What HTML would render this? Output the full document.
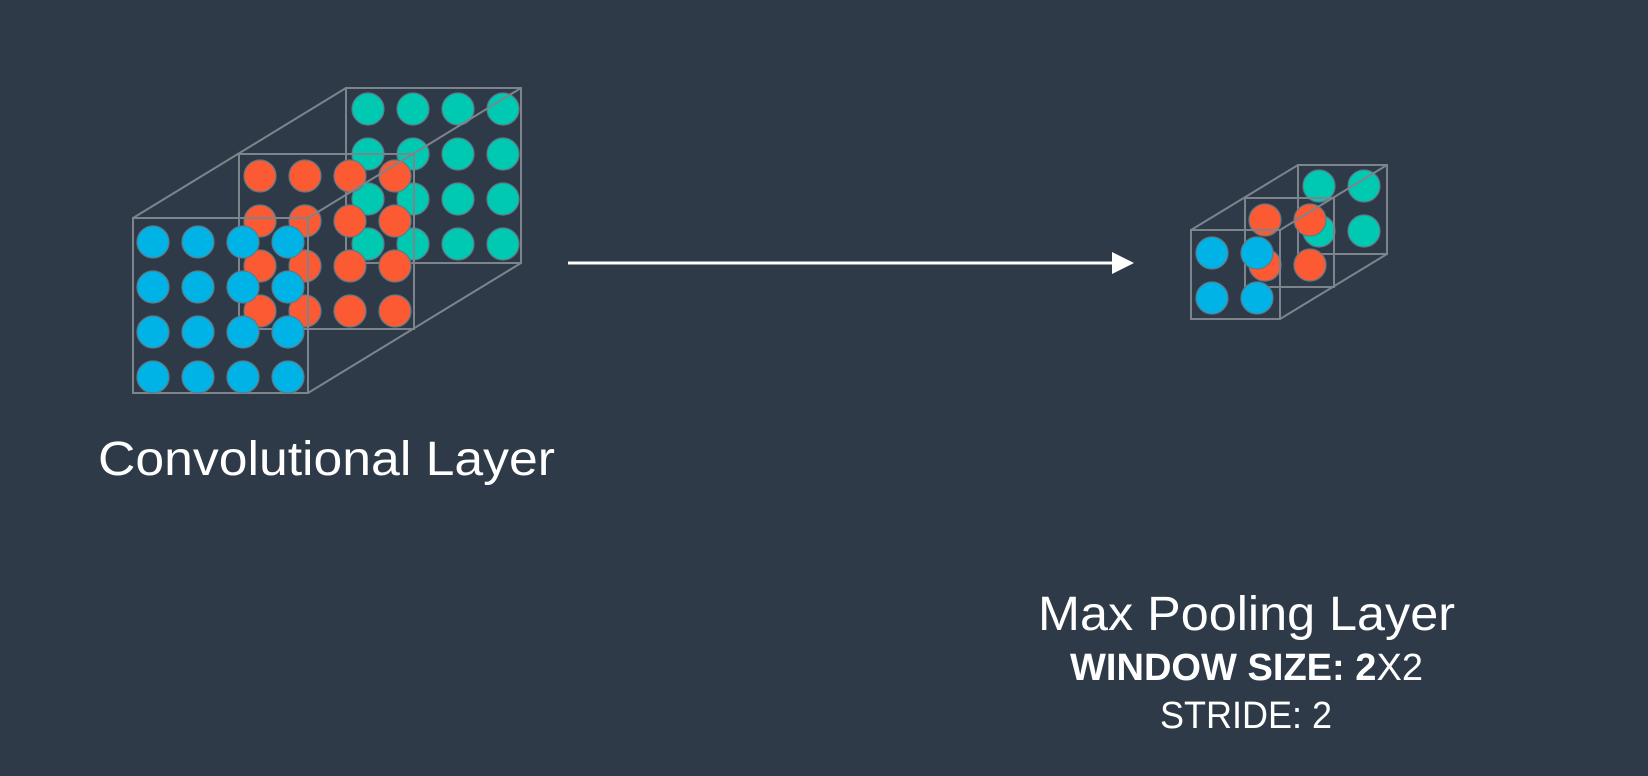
<!DOCTYPE html>
<html><head><meta charset="utf-8">
<style>
html,body{margin:0;padding:0;background:#2e3a48;}
svg{display:block;}
text{font-family:"Liberation Sans","DejaVu Sans",sans-serif;fill:#fff;}
</style></head>
<body>
<svg id="s" width="1648" height="776" viewBox="0 0 1648 776" xmlns="http://www.w3.org/2000/svg">
<rect width="1648" height="776" fill="#2e3a48"/>
<g id="big"></g>
<g id="small"></g>
<g>
<line x1="568" y1="263" x2="1116" y2="263" stroke="#fff" stroke-width="3"/>
<polygon points="1134,263 1112,252 1112,274" fill="#fff"/>
</g>
<text x="98" y="475" font-size="48" textLength="457" lengthAdjust="spacingAndGlyphs">Convolutional Layer</text>
<text x="1038" y="630" font-size="48" textLength="417" lengthAdjust="spacingAndGlyphs">Max Pooling Layer</text>
<text x="1070" y="680" font-size="38" textLength="353" lengthAdjust="spacingAndGlyphs"><tspan font-weight="bold">WINDOW SIZE: 2</tspan>X2</text>
<text x="1160" y="728" font-size="38" textLength="172" lengthAdjust="spacingAndGlyphs">STRIDE: 2</text>
</svg>
<script>
const layerColors = ["#00b3e6", "#fc5a32", "#00c9b1"];
const layerNames = ["blue", "orange", "teal"];
const bigN = 4;
const bigBoxes = [[133,218],[239,154],[346,88]];
const bigBoxSize = 175;
const bigCircleStart = [[153,242],[260,176],[368,109]];
const bigStep = 45;
const smallN = 2;
const smallBoxes = [[1191,230],[1245,198],[1298,165]];
const smallBoxSize = 89;
const smallCircleStart = [[1212,253],[1265,220],[1319,186]];
const smallStep = 45;

const NS = "http://www.w3.org/2000/svg";
function mk(tag, attrs, parent){
  const e = document.createElementNS(NS, tag);
  for (const k in attrs) e.setAttribute(k, attrs[k]);
  parent.appendChild(e);
  return e;
}
function drawCube(g, n, boxes, size, starts, step, r){
  const edge = "#7d848c";
  for (let L = 2; L >= 0; L--){
    const b = mk("rect", {x:boxes[L][0], y:boxes[L][1], width:size, height:size, fill:"none", stroke:edge, "stroke-width":2}, g);
    
    
    for (let i = 0; i < n; i++) for (let j = 0; j < n; j++){
      const c = mk("circle", {cx:starts[L][0] + j*step, cy:starts[L][1] + i*step, r:r, fill:layerColors[L], stroke:"#5f7a88", "stroke-width":1.2}, g);
      
      
    }
  }
  const f = boxes[0], k = boxes[2];
  const lines = [
    [f[0], f[1], k[0], k[1]],
    [f[0]+size, f[1], k[0]+size, k[1]],
    [f[0]+size, f[1]+size, k[0]+size, k[1]+size]
  ];
  lines.forEach(l => {
    const e = mk("line", {x1:l[0], y1:l[1], x2:l[2], y2:l[3], stroke:edge, "stroke-width":2}, g);
    
    
  });
}
drawCube(document.getElementById("big"), bigN, bigBoxes, bigBoxSize, bigCircleStart, bigStep, 16);
drawCube(document.getElementById("small"), smallN, smallBoxes, smallBoxSize, smallCircleStart, smallStep, 16);
</script>
</body></html>
